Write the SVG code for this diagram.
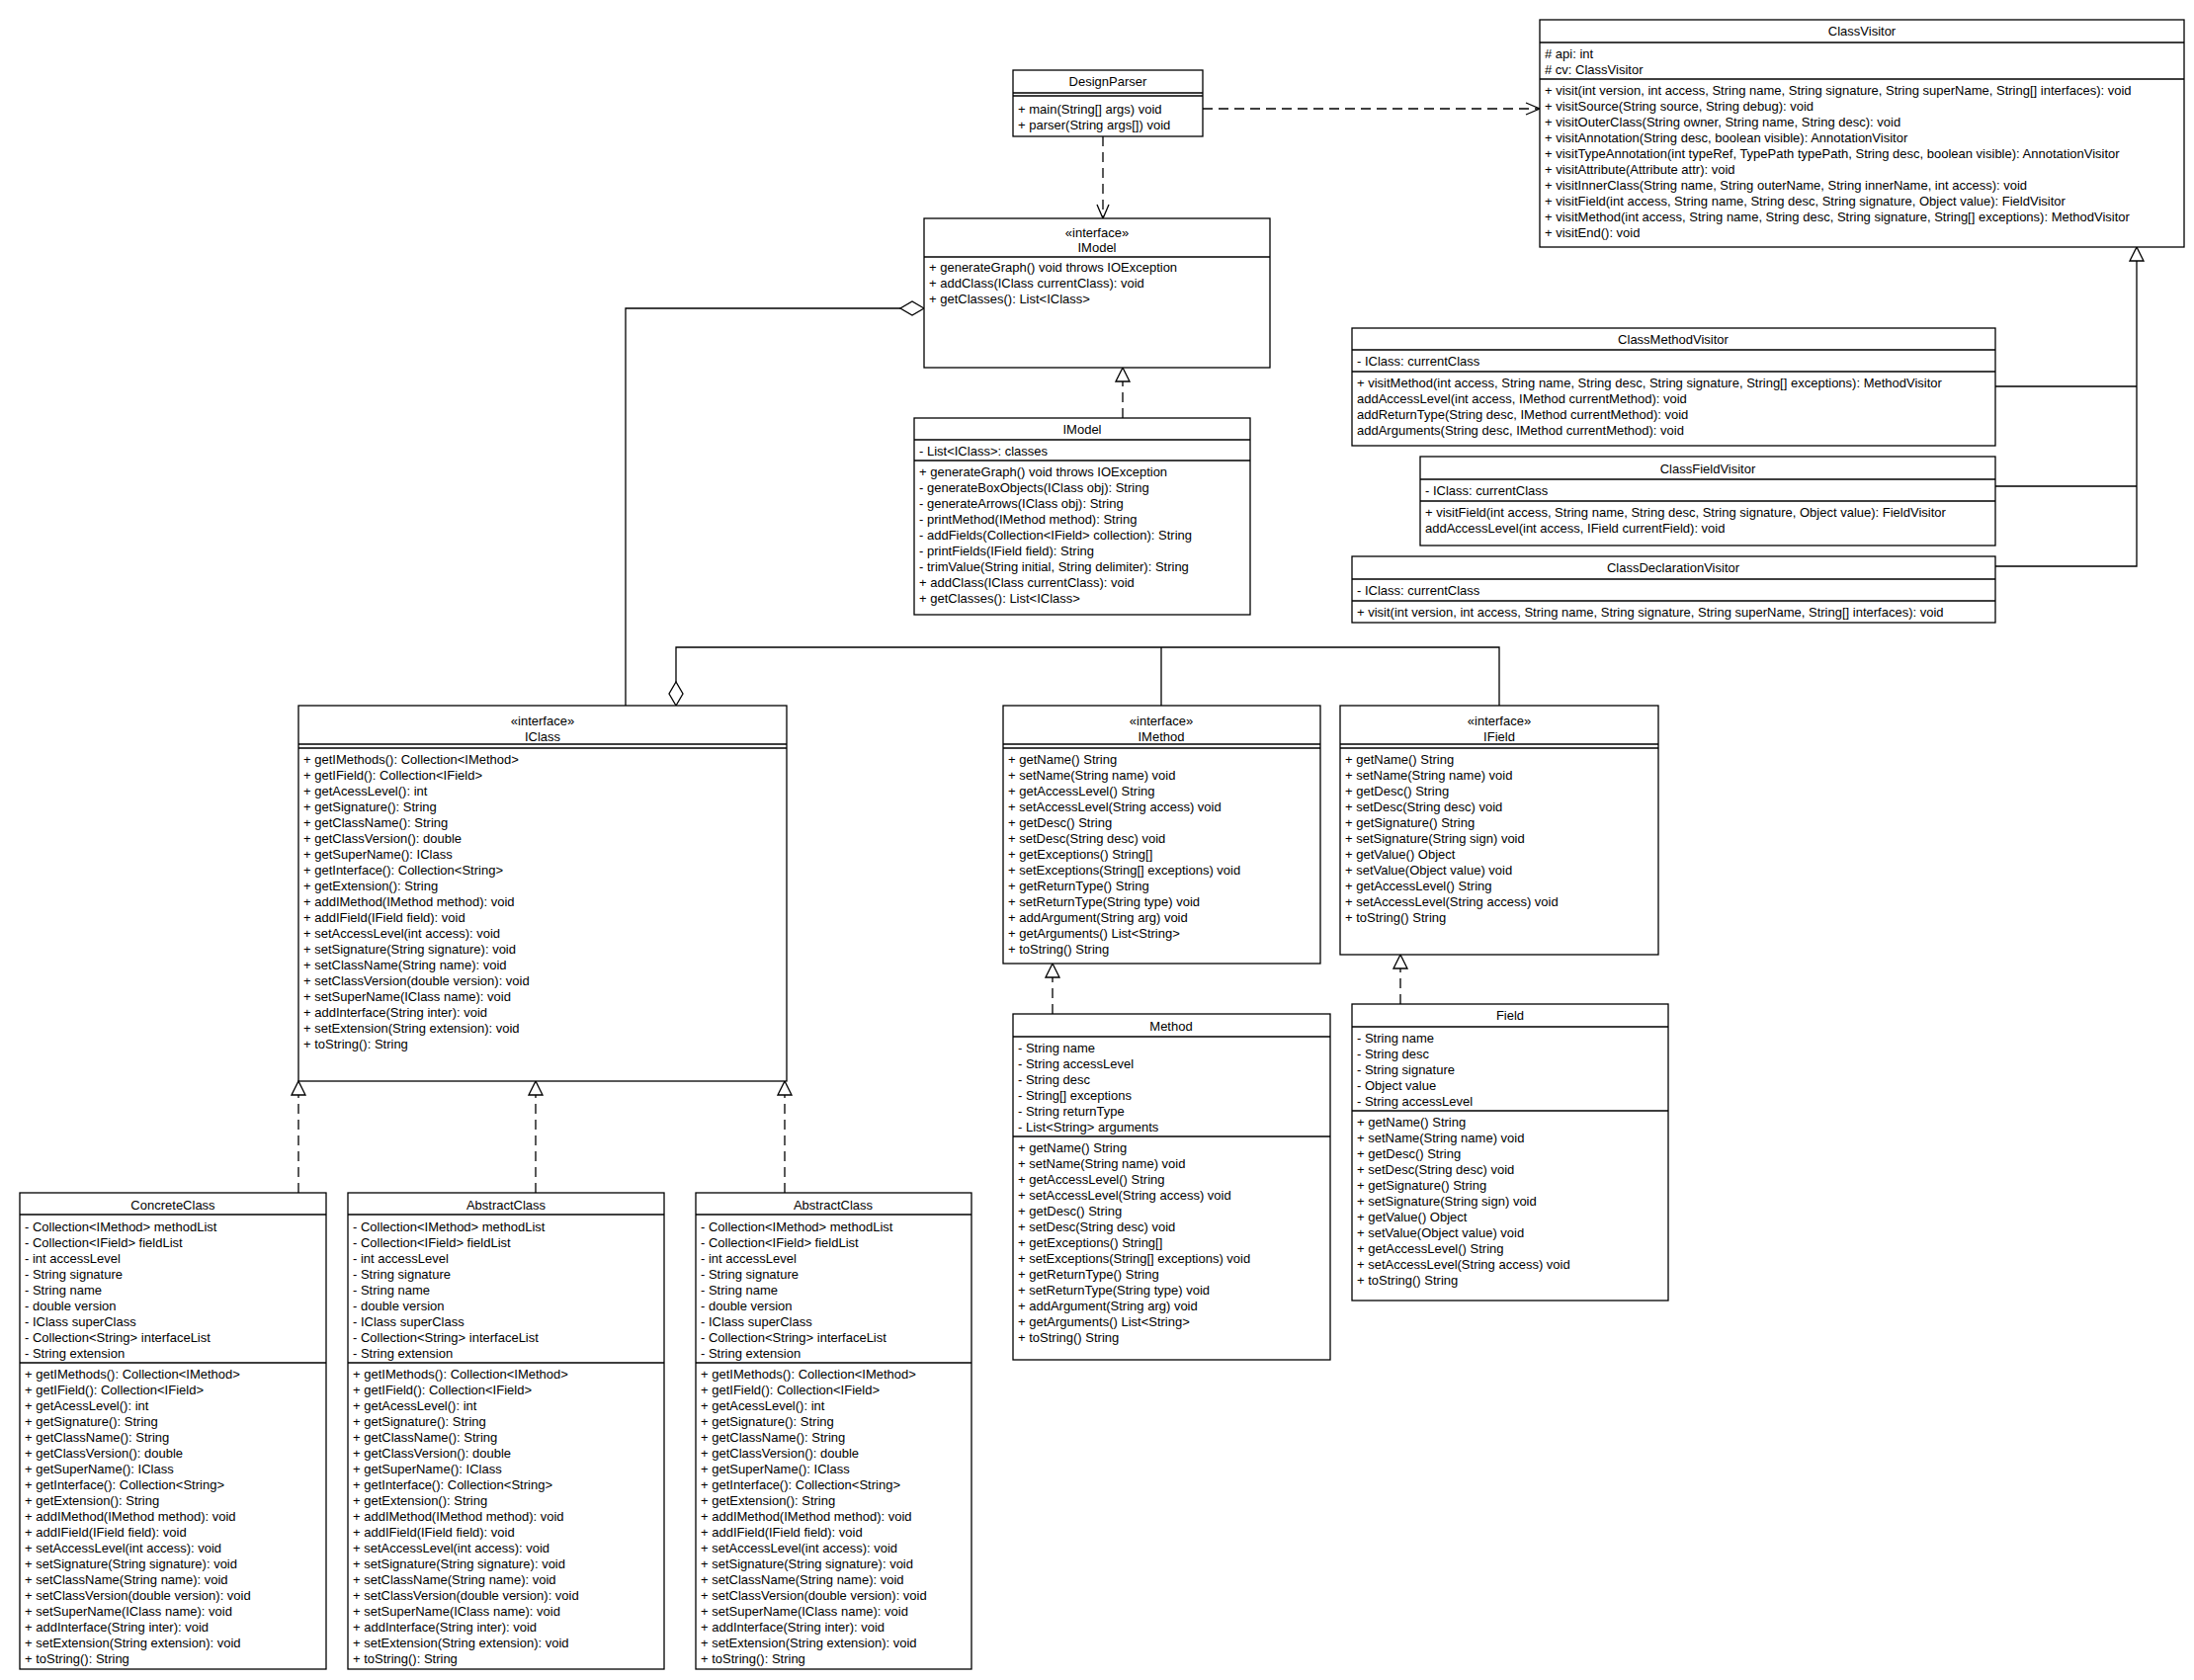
<svg xmlns="http://www.w3.org/2000/svg" width="2220" height="1700" viewBox="0 0 2220 1700">
<style>
text{font-family:"Liberation Sans",Arial,sans-serif;font-size:13px;fill:#000}
.c{text-anchor:middle}
.b{fill:#fff;stroke:#000;stroke-width:1.3}
.l{stroke:#000;stroke-width:1.3;fill:none}
.d{stroke:#000;stroke-width:1.3;fill:none;stroke-dasharray:10,6}
</style>
<defs>
<marker id="tri" markerUnits="userSpaceOnUse" markerWidth="16" markerHeight="16" refX="14" refY="7" orient="auto" overflow="visible"><path d="M0,0 L14,7 L0,14 Z" fill="#fff" stroke="#000" stroke-width="1.3"/></marker>
<marker id="open" markerUnits="userSpaceOnUse" markerWidth="16" markerHeight="16" refX="14" refY="6" orient="auto" overflow="visible"><path d="M0,0 L14,6 L0,12" fill="none" stroke="#000" stroke-width="1.3"/></marker>
</defs>
<rect width="2220" height="1700" fill="#fff"/>
<g id="connectors">
<path class="d" d="M1116 138 V221" marker-end="url(#open)"/>
<path class="d" d="M1217 110 H1558" marker-end="url(#open)"/>
<path class="d" d="M1136 423 V372" marker-end="url(#tri)"/>
<path class="l" d="M2019 391 H2162 M2019 492 H2162"/>
<path class="l" d="M2019 573 H2162 V250" marker-end="url(#tri)"/>
<path class="l" d="M633 714 V312 H912"/>
<polygon class="b" points="935,312 923,305 911,312 923,319"/>
<path class="l" d="M684 690 V655 H1517 V714 M1175 655 V714"/>
<polygon class="b" points="684,714 677,702 684,690 691,702"/>
<path class="d" d="M302 1207 V1094" marker-end="url(#tri)"/>
<path class="d" d="M542 1207 V1094" marker-end="url(#tri)"/>
<path class="d" d="M794 1207 V1094" marker-end="url(#tri)"/>
<path class="d" d="M1065 1026 V975" marker-end="url(#tri)"/>
<path class="d" d="M1417 1016 V966" marker-end="url(#tri)"/>
</g>
<g id="DesignParser">
<rect class="b" x="1025" y="71" width="192" height="67"/>
<text class="c" x="1121" y="87">DesignParser</text>
<path class="l" d="M1025 94 H1217 M1025 97 H1217"/>
<text x="1030" y="115">+ main(String[] args) void<tspan x="1030" dy="16">+ parser(String args[]) void</tspan></text>
</g>
<g id="IModelInterface">
<rect class="b" x="935" y="221" width="350" height="151"/>
<text class="c" x="1110" y="240">«interface»<tspan x="1110" dy="15">IModel</tspan></text>
<path class="l" d="M935 260 H1285"/>
<text x="940" y="275">+ generateGraph() void throws IOException<tspan x="940" dy="16">+ addClass(IClass currentClass): void</tspan><tspan x="940" dy="16">+ getClasses(): List&lt;IClass&gt;</tspan></text>
</g>
<g id="IModelClass">
<rect class="b" x="925" y="423" width="340" height="199"/>
<text class="c" x="1095" y="439">IModel</text>
<path class="l" d="M925 445 H1265 M925 466 H1265"/>
<text x="930" y="461">- List&lt;IClass&gt;: classes</text>
<text x="930" y="482">+ generateGraph() void throws IOException<tspan x="930" dy="16">- generateBoxObjects(IClass obj): String</tspan><tspan x="930" dy="16">- generateArrows(IClass obj): String</tspan><tspan x="930" dy="16">- printMethod(IMethod method): String</tspan><tspan x="930" dy="16">- addFields(Collection&lt;IField&gt; collection): String</tspan><tspan x="930" dy="16">- printFields(IField field): String</tspan><tspan x="930" dy="16">- trimValue(String initial, String delimiter): String</tspan><tspan x="930" dy="16">+ addClass(IClass currentClass): void</tspan><tspan x="930" dy="16">+ getClasses(): List&lt;IClass&gt;</tspan></text>
</g>
<g id="ClassVisitor">
<rect class="b" x="1558" y="20" width="652" height="230"/>
<text class="c" x="1884" y="36">ClassVisitor</text>
<path class="l" d="M1558 43 H2210 M1558 80 H2210"/>
<text x="1563" y="59"># api: int<tspan x="1563" dy="16"># cv: ClassVisitor</tspan></text>
<text x="1563" y="96">+ visit(int version, int access, String name, String signature, String superName, String[] interfaces): void<tspan x="1563" dy="16">+ visitSource(String source, String debug): void</tspan><tspan x="1563" dy="16">+ visitOuterClass(String owner, String name, String desc): void</tspan><tspan x="1563" dy="16">+ visitAnnotation(String desc, boolean visible): AnnotationVisitor</tspan><tspan x="1563" dy="16">+ visitTypeAnnotation(int typeRef, TypePath typePath, String desc, boolean visible): AnnotationVisitor</tspan><tspan x="1563" dy="16">+ visitAttribute(Attribute attr): void</tspan><tspan x="1563" dy="16">+ visitInnerClass(String name, String outerName, String innerName, int access): void</tspan><tspan x="1563" dy="16">+ visitField(int access, String name, String desc, String signature, Object value): FieldVisitor</tspan><tspan x="1563" dy="16">+ visitMethod(int access, String name, String desc, String signature, String[] exceptions): MethodVisitor</tspan><tspan x="1563" dy="16">+ visitEnd(): void</tspan></text>
</g>
<g id="ClassMethodVisitor">
<rect class="b" x="1368" y="332" width="651" height="119"/>
<text class="c" x="1693" y="348">ClassMethodVisitor</text>
<path class="l" d="M1368 354 H2019 M1368 376 H2019"/>
<text x="1373" y="370">- IClass: currentClass</text>
<text x="1373" y="392">+ visitMethod(int access, String name, String desc, String signature, String[] exceptions): MethodVisitor<tspan x="1373" dy="16">addAccessLevel(int access, IMethod currentMethod): void</tspan><tspan x="1373" dy="16">addReturnType(String desc, IMethod currentMethod): void</tspan><tspan x="1373" dy="16">addArguments(String desc, IMethod currentMethod): void</tspan></text>
</g>
<g id="ClassFieldVisitor">
<rect class="b" x="1437" y="462" width="582" height="90"/>
<text class="c" x="1728" y="479">ClassFieldVisitor</text>
<path class="l" d="M1437 485 H2019 M1437 507 H2019"/>
<text x="1442" y="501">- IClass: currentClass</text>
<text x="1442" y="523">+ visitField(int access, String name, String desc, String signature, Object value): FieldVisitor<tspan x="1442" dy="16">addAccessLevel(int access, IField currentField): void</tspan></text>
</g>
<g id="ClassDeclarationVisitor">
<rect class="b" x="1368" y="563" width="651" height="67"/>
<text class="c" x="1693" y="579">ClassDeclarationVisitor</text>
<path class="l" d="M1368 586 H2019 M1368 608 H2019"/>
<text x="1373" y="602">- IClass: currentClass</text>
<text x="1373" y="624">+ visit(int version, int access, String name, String signature, String superName, String[] interfaces): void</text>
</g>
<g id="IClass">
<rect class="b" x="302" y="714" width="494" height="380"/>
<text class="c" x="549" y="734">«interface»<tspan x="549" dy="16">IClass</tspan></text>
<path class="l" d="M302 753 H796 M302 757 H796"/>
<text x="307" y="773">+ getIMethods(): Collection&lt;IMethod&gt;<tspan x="307" dy="16">+ getIField(): Collection&lt;IField&gt;</tspan><tspan x="307" dy="16">+ getAcessLevel(): int</tspan><tspan x="307" dy="16">+ getSignature(): String</tspan><tspan x="307" dy="16">+ getClassName(): String</tspan><tspan x="307" dy="16">+ getClassVersion(): double</tspan><tspan x="307" dy="16">+ getSuperName(): IClass</tspan><tspan x="307" dy="16">+ getInterface(): Collection&lt;String&gt;</tspan><tspan x="307" dy="16">+ getExtension(): String</tspan><tspan x="307" dy="16">+ addIMethod(IMethod method): void</tspan><tspan x="307" dy="16">+ addIField(IField field): void</tspan><tspan x="307" dy="16">+ setAccessLevel(int access): void</tspan><tspan x="307" dy="16">+ setSignature(String signature): void</tspan><tspan x="307" dy="16">+ setClassName(String name): void</tspan><tspan x="307" dy="16">+ setClassVersion(double version): void</tspan><tspan x="307" dy="16">+ setSuperName(IClass name): void</tspan><tspan x="307" dy="16">+ addInterface(String inter): void</tspan><tspan x="307" dy="16">+ setExtension(String extension): void</tspan><tspan x="307" dy="16">+ toString(): String</tspan></text>
</g>
<g id="IMethod">
<rect class="b" x="1015" y="714" width="321" height="261"/>
<text class="c" x="1175" y="734">«interface»<tspan x="1175" dy="16">IMethod</tspan></text>
<path class="l" d="M1015 753 H1336 M1015 757 H1336"/>
<text x="1020" y="773">+ getName() String<tspan x="1020" dy="16">+ setName(String name) void</tspan><tspan x="1020" dy="16">+ getAccessLevel() String</tspan><tspan x="1020" dy="16">+ setAccessLevel(String access) void</tspan><tspan x="1020" dy="16">+ getDesc() String</tspan><tspan x="1020" dy="16">+ setDesc(String desc) void</tspan><tspan x="1020" dy="16">+ getExceptions() String[]</tspan><tspan x="1020" dy="16">+ setExceptions(String[] exceptions) void</tspan><tspan x="1020" dy="16">+ getReturnType() String</tspan><tspan x="1020" dy="16">+ setReturnType(String type) void</tspan><tspan x="1020" dy="16">+ addArgument(String arg) void</tspan><tspan x="1020" dy="16">+ getArguments() List&lt;String&gt;</tspan><tspan x="1020" dy="16">+ toString() String</tspan></text>
</g>
<g id="IField">
<rect class="b" x="1356" y="714" width="322" height="252"/>
<text class="c" x="1517" y="734">«interface»<tspan x="1517" dy="16">IField</tspan></text>
<path class="l" d="M1356 753 H1678 M1356 757 H1678"/>
<text x="1361" y="773">+ getName() String<tspan x="1361" dy="16">+ setName(String name) void</tspan><tspan x="1361" dy="16">+ getDesc() String</tspan><tspan x="1361" dy="16">+ setDesc(String desc) void</tspan><tspan x="1361" dy="16">+ getSignature() String</tspan><tspan x="1361" dy="16">+ setSignature(String sign) void</tspan><tspan x="1361" dy="16">+ getValue() Object</tspan><tspan x="1361" dy="16">+ setValue(Object value) void</tspan><tspan x="1361" dy="16">+ getAccessLevel() String</tspan><tspan x="1361" dy="16">+ setAccessLevel(String access) void</tspan><tspan x="1361" dy="16">+ toString() String</tspan></text>
</g>
<g id="Method">
<rect class="b" x="1025" y="1026" width="321" height="350"/>
<text class="c" x="1185" y="1043">Method</text>
<path class="l" d="M1025 1049 H1346 M1025 1150 H1346"/>
<text x="1030" y="1065">- String name<tspan x="1030" dy="16">- String accessLevel</tspan><tspan x="1030" dy="16">- String desc</tspan><tspan x="1030" dy="16">- String[] exceptions</tspan><tspan x="1030" dy="16">- String returnType</tspan><tspan x="1030" dy="16">- List&lt;String&gt; arguments</tspan></text>
<text x="1030" y="1166">+ getName() String<tspan x="1030" dy="16">+ setName(String name) void</tspan><tspan x="1030" dy="16">+ getAccessLevel() String</tspan><tspan x="1030" dy="16">+ setAccessLevel(String access) void</tspan><tspan x="1030" dy="16">+ getDesc() String</tspan><tspan x="1030" dy="16">+ setDesc(String desc) void</tspan><tspan x="1030" dy="16">+ getExceptions() String[]</tspan><tspan x="1030" dy="16">+ setExceptions(String[] exceptions) void</tspan><tspan x="1030" dy="16">+ getReturnType() String</tspan><tspan x="1030" dy="16">+ setReturnType(String type) void</tspan><tspan x="1030" dy="16">+ addArgument(String arg) void</tspan><tspan x="1030" dy="16">+ getArguments() List&lt;String&gt;</tspan><tspan x="1030" dy="16">+ toString() String</tspan></text>
</g>
<g id="Field">
<rect class="b" x="1368" y="1016" width="320" height="300"/>
<text class="c" x="1528" y="1032">Field</text>
<path class="l" d="M1368 1039 H1688 M1368 1124 H1688"/>
<text x="1373" y="1055">- String name<tspan x="1373" dy="16">- String desc</tspan><tspan x="1373" dy="16">- String signature</tspan><tspan x="1373" dy="16">- Object value</tspan><tspan x="1373" dy="16">- String accessLevel</tspan></text>
<text x="1373" y="1140">+ getName() String<tspan x="1373" dy="16">+ setName(String name) void</tspan><tspan x="1373" dy="16">+ getDesc() String</tspan><tspan x="1373" dy="16">+ setDesc(String desc) void</tspan><tspan x="1373" dy="16">+ getSignature() String</tspan><tspan x="1373" dy="16">+ setSignature(String sign) void</tspan><tspan x="1373" dy="16">+ getValue() Object</tspan><tspan x="1373" dy="16">+ setValue(Object value) void</tspan><tspan x="1373" dy="16">+ getAccessLevel() String</tspan><tspan x="1373" dy="16">+ setAccessLevel(String access) void</tspan><tspan x="1373" dy="16">+ toString() String</tspan></text>
</g>
<g id="ConcreteClass">
<rect class="b" x="20" y="1207" width="310" height="482"/>
<text class="c" x="175" y="1224">ConcreteClass</text>
<path class="l" d="M20 1229 H330 M20 1379 H330"/>
<text x="25" y="1246">- Collection&lt;IMethod&gt; methodList<tspan x="25" dy="16">- Collection&lt;IField&gt; fieldList</tspan><tspan x="25" dy="16">- int accessLevel</tspan><tspan x="25" dy="16">- String signature</tspan><tspan x="25" dy="16">- String name</tspan><tspan x="25" dy="16">- double version</tspan><tspan x="25" dy="16">- IClass superClass</tspan><tspan x="25" dy="16">- Collection&lt;String&gt; interfaceList</tspan><tspan x="25" dy="16">- String extension</tspan></text>
<text x="25" y="1395">+ getIMethods(): Collection&lt;IMethod&gt;<tspan x="25" dy="16">+ getIField(): Collection&lt;IField&gt;</tspan><tspan x="25" dy="16">+ getAcessLevel(): int</tspan><tspan x="25" dy="16">+ getSignature(): String</tspan><tspan x="25" dy="16">+ getClassName(): String</tspan><tspan x="25" dy="16">+ getClassVersion(): double</tspan><tspan x="25" dy="16">+ getSuperName(): IClass</tspan><tspan x="25" dy="16">+ getInterface(): Collection&lt;String&gt;</tspan><tspan x="25" dy="16">+ getExtension(): String</tspan><tspan x="25" dy="16">+ addIMethod(IMethod method): void</tspan><tspan x="25" dy="16">+ addIField(IField field): void</tspan><tspan x="25" dy="16">+ setAccessLevel(int access): void</tspan><tspan x="25" dy="16">+ setSignature(String signature): void</tspan><tspan x="25" dy="16">+ setClassName(String name): void</tspan><tspan x="25" dy="16">+ setClassVersion(double version): void</tspan><tspan x="25" dy="16">+ setSuperName(IClass name): void</tspan><tspan x="25" dy="16">+ addInterface(String inter): void</tspan><tspan x="25" dy="16">+ setExtension(String extension): void</tspan><tspan x="25" dy="16">+ toString(): String</tspan></text>
</g>
<g id="AbstractClass1">
<rect class="b" x="352" y="1207" width="320" height="482"/>
<text class="c" x="512" y="1224">AbstractClass</text>
<path class="l" d="M352 1229 H672 M352 1379 H672"/>
<text x="357" y="1246">- Collection&lt;IMethod&gt; methodList<tspan x="357" dy="16">- Collection&lt;IField&gt; fieldList</tspan><tspan x="357" dy="16">- int accessLevel</tspan><tspan x="357" dy="16">- String signature</tspan><tspan x="357" dy="16">- String name</tspan><tspan x="357" dy="16">- double version</tspan><tspan x="357" dy="16">- IClass superClass</tspan><tspan x="357" dy="16">- Collection&lt;String&gt; interfaceList</tspan><tspan x="357" dy="16">- String extension</tspan></text>
<text x="357" y="1395">+ getIMethods(): Collection&lt;IMethod&gt;<tspan x="357" dy="16">+ getIField(): Collection&lt;IField&gt;</tspan><tspan x="357" dy="16">+ getAcessLevel(): int</tspan><tspan x="357" dy="16">+ getSignature(): String</tspan><tspan x="357" dy="16">+ getClassName(): String</tspan><tspan x="357" dy="16">+ getClassVersion(): double</tspan><tspan x="357" dy="16">+ getSuperName(): IClass</tspan><tspan x="357" dy="16">+ getInterface(): Collection&lt;String&gt;</tspan><tspan x="357" dy="16">+ getExtension(): String</tspan><tspan x="357" dy="16">+ addIMethod(IMethod method): void</tspan><tspan x="357" dy="16">+ addIField(IField field): void</tspan><tspan x="357" dy="16">+ setAccessLevel(int access): void</tspan><tspan x="357" dy="16">+ setSignature(String signature): void</tspan><tspan x="357" dy="16">+ setClassName(String name): void</tspan><tspan x="357" dy="16">+ setClassVersion(double version): void</tspan><tspan x="357" dy="16">+ setSuperName(IClass name): void</tspan><tspan x="357" dy="16">+ addInterface(String inter): void</tspan><tspan x="357" dy="16">+ setExtension(String extension): void</tspan><tspan x="357" dy="16">+ toString(): String</tspan></text>
</g>
<g id="AbstractClass2">
<rect class="b" x="704" y="1207" width="279" height="482"/>
<text class="c" x="843" y="1224">AbstractClass</text>
<path class="l" d="M704 1229 H983 M704 1379 H983"/>
<text x="709" y="1246">- Collection&lt;IMethod&gt; methodList<tspan x="709" dy="16">- Collection&lt;IField&gt; fieldList</tspan><tspan x="709" dy="16">- int accessLevel</tspan><tspan x="709" dy="16">- String signature</tspan><tspan x="709" dy="16">- String name</tspan><tspan x="709" dy="16">- double version</tspan><tspan x="709" dy="16">- IClass superClass</tspan><tspan x="709" dy="16">- Collection&lt;String&gt; interfaceList</tspan><tspan x="709" dy="16">- String extension</tspan></text>
<text x="709" y="1395">+ getIMethods(): Collection&lt;IMethod&gt;<tspan x="709" dy="16">+ getIField(): Collection&lt;IField&gt;</tspan><tspan x="709" dy="16">+ getAcessLevel(): int</tspan><tspan x="709" dy="16">+ getSignature(): String</tspan><tspan x="709" dy="16">+ getClassName(): String</tspan><tspan x="709" dy="16">+ getClassVersion(): double</tspan><tspan x="709" dy="16">+ getSuperName(): IClass</tspan><tspan x="709" dy="16">+ getInterface(): Collection&lt;String&gt;</tspan><tspan x="709" dy="16">+ getExtension(): String</tspan><tspan x="709" dy="16">+ addIMethod(IMethod method): void</tspan><tspan x="709" dy="16">+ addIField(IField field): void</tspan><tspan x="709" dy="16">+ setAccessLevel(int access): void</tspan><tspan x="709" dy="16">+ setSignature(String signature): void</tspan><tspan x="709" dy="16">+ setClassName(String name): void</tspan><tspan x="709" dy="16">+ setClassVersion(double version): void</tspan><tspan x="709" dy="16">+ setSuperName(IClass name): void</tspan><tspan x="709" dy="16">+ addInterface(String inter): void</tspan><tspan x="709" dy="16">+ setExtension(String extension): void</tspan><tspan x="709" dy="16">+ toString(): String</tspan></text>
</g>
</svg>
